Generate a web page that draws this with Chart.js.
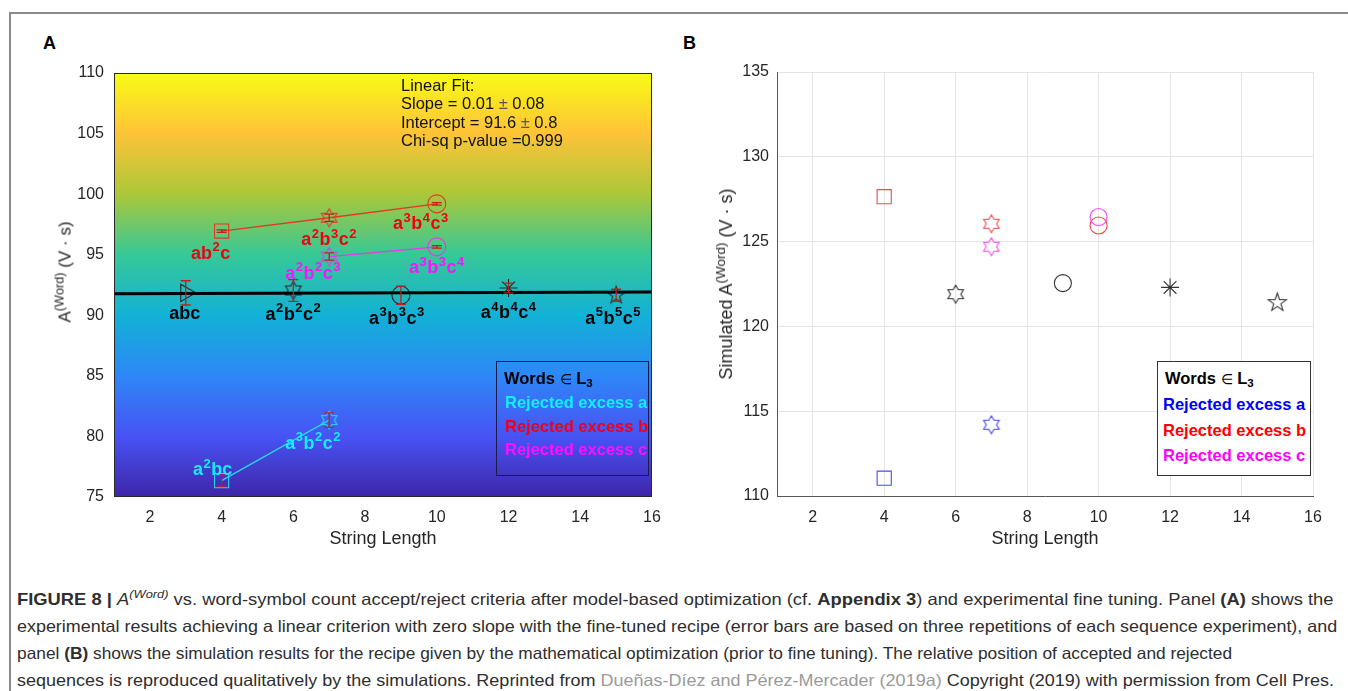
<!DOCTYPE html>
<html><head><meta charset="utf-8">
<script src="https://cdn.jsdelivr.net/npm/chart.js@4.4.1/dist/chart.umd.min.js"></script>
<style>
body{margin:0;background:#fff;width:1348px;height:691px;overflow:hidden;position:relative;font-family:"Liberation Sans",Arial,sans-serif;}
.abs{position:absolute}
#frame{left:9px;top:12px;width:1400px;height:700px;border-left:2px solid #8a8a8a;border-top:2px solid #8a8a8a}
.plab{font-weight:bold;font-size:18px;color:#000;line-height:20px}
.ytitle{white-space:nowrap;color:#262626;transform:translate(-50%,-50%) rotate(-90deg);line-height:1}
.ytitle sup{font-size:0.75em;vertical-align:0.55em;line-height:0}
.lg{position:absolute;box-sizing:border-box}
.lgt{position:absolute;white-space:nowrap;font-weight:bold;font-size:16.5px;line-height:20px}
.lgt sub{font-size:0.7em;vertical-align:-0.3em;line-height:0}
.lgt .el{font-weight:normal;font-size:0.85em}
.ann{position:absolute;white-space:nowrap;font-size:16.5px;line-height:18.3px;color:#111}
.cap{position:absolute;left:17px;white-space:nowrap;font-family:"Liberation Sans",Arial,sans-serif;font-size:16.5px;line-height:20px;color:#2e2e2e;transform-origin:0 50%}
.cap sup{font-size:0.7em;vertical-align:0.6em;line-height:0}
</style></head>
<body>
<div id="frame" class="abs"></div>
<div class="abs plab" style="left:43px;top:33px">A</div>
<div class="abs plab" style="left:683px;top:33px">B</div>

<canvas id="cA" class="abs" width="680" height="560" style="left:0;top:0"></canvas>
<canvas id="cB" class="abs" width="668" height="560" style="left:680px;top:0"></canvas>

<div class="abs ytitle" style="left:65px;top:272px;font-size:17px">A<sup>(Word)</sup> (V · s)</div>
<div class="abs ytitle" style="left:726px;top:284px;font-size:18px">Simulated A<sup>(Word)</sup> (V · s)</div>

<div class="ann" style="left:401px;top:76px">Linear Fit:<br>Slope = 0.01 <span style="color:#555">±</span> 0.08<br>Intercept = 91.6 <span style="color:#555">±</span> 0.8<br>Chi-sq p-value =0.999</div>

<div class="lg" style="left:496px;top:361px;width:153px;height:115px;border:1.5px solid #1c1c4c"></div>
<div class="lgt" style="left:504px;top:368px;color:#000">Words <span class="el">∈</span> L<sub>3</sub></div>
<div class="lgt" style="left:505px;top:392px;color:#10f0ff">Rejected excess a</div>
<div class="lgt" style="left:505px;top:416px;color:#f00018">Rejected excess b</div>
<div class="lgt" style="left:505px;top:439px;color:#ff10ff">Rejected excess c</div>

<div class="lg" style="left:1157px;top:361px;width:154px;height:115px;border:1px solid #333;background:#fff"></div>
<div class="lgt" style="left:1165px;top:368px;color:#000">Words <span class="el">∈</span> L<sub>3</sub></div>
<div class="lgt" style="left:1163px;top:394px;color:#0000ff">Rejected excess a</div>
<div class="lgt" style="left:1163px;top:420px;color:#ff0000">Rejected excess b</div>
<div class="lgt" style="left:1163px;top:445px;color:#ff00ff">Rejected excess c</div>

<div class="cap" data-w="1316" style="top:589px"><b>FIGURE 8 |</b> <i>A</i><sup><i>(Word)</i></sup> vs. word-symbol count accept/reject criteria after model-based optimization (cf. <b>Appendix 3</b>) and experimental fine tuning. Panel <b>(A)</b> shows the</div>
<div class="cap" data-w="1320" style="top:616px">experimental results achieving a linear criterion with zero slope with the fine-tuned recipe (error bars are based on three repetitions of each sequence experiment), and</div>
<div class="cap" data-w="1215" style="top:643px">panel <b>(B)</b> shows the simulation results for the recipe given by the mathematical optimization (prior to fine tuning). The relative position of accepted and rejected</div>
<div class="cap" data-w="1317" style="top:670px">sequences is reproduced qualitatively by the simulations. Reprinted from <span style="color:#9a9a9a">Dueñas-Díez and Pérez-Mercader (2019a)</span> Copyright (2019) with permission from Cell Pres.</div>

<script>
// ================= DATA =================
const xTickValues = [2, 4, 6, 8, 10, 12, 14, 16];
const yTickValuesA = [75, 80, 85, 90, 95, 100, 105, 110];
const yTickValuesB = [110, 115, 120, 125, 130, 135];

// Panel A (experimental)
const acceptedX = [3, 6, 9, 12, 15];
const acceptedA = [91.85, 92.05, 91.65, 92.25, 91.65];
const acceptedErr = [1.0, 0.9, 0.75, 0.4, 0.5];
const acceptedLabels = ['abc', 'a^2b^2c^2', 'a^3b^3c^3', 'a^4b^4c^4', 'a^5b^5c^5'];

const excessBX = [4, 7, 10];
const excessBA = [96.95, 98.05, 99.2];
const excessBErr = [0.1, 0.3, 0.1];
const excessBLabels = ['ab^2c', 'a^2b^3c^2', 'a^3b^4c^3'];

const excessCX = [7, 10];
const excessCA = [94.85, 95.65];
const excessCErr = [0.3, 0.1];
const excessCLabels = ['a^2b^2c^3', 'a^3b^3c^4'];

const excessAX = [4, 7];
const excessAA = [76.35, 81.35];
const excessAErr = [0.45, 0.6];
const excessALabels = ['a^2bc', 'a^3b^2c^2'];

const fitX = [1, 16];
const fitA = [91.77, 91.93];

// Panel B (simulated)
const simAcceptedX = [6, 9, 12, 15];
const simAcceptedA = [121.9, 122.55, 122.3, 121.4];
const simExcessBX = [4, 7, 10];
const simExcessBA = [127.65, 126.05, 125.95];
const simExcessCX = [7, 10];
const simExcessCA = [124.7, 126.45];
const simExcessAX = [4, 7];
const simExcessAA = [111.05, 114.2];

// ================= STYLE HELPERS =================
const FONT = '"Liberation Sans", Arial, sans-serif';
Chart.defaults.font.family = FONT;

function pts(xs, ys) { return xs.map((x, i) => ({x: x, y: ys[i]})); }

function makeStar(n, R, r, color, lw) {
  const s = Math.ceil(2 * R + lw + 4);
  const c = document.createElement('canvas');
  c.width = s; c.height = s;
  const g = c.getContext('2d');
  g.strokeStyle = color; g.lineWidth = lw; g.lineJoin = 'miter';
  g.beginPath();
  for (let k = 0; k < 2 * n; k++) {
    const ang = -Math.PI / 2 + k * Math.PI / n;
    const rad = (k % 2) ? r : R;
    const x = s / 2 + rad * Math.cos(ang), y = s / 2 + rad * Math.sin(ang);
    if (k) g.lineTo(x, y); else g.moveTo(x, y);
  }
  g.closePath(); g.stroke();
  return c;
}
const hex = (col, R) => makeStar(6, R, R / Math.sqrt(3), col, 1.1);
const pent = (col, R) => makeStar(5, R, R * 0.4, col, 1.1);

const parula = [
  [0, 'rgb(62,38,168)'], [1/7, 'rgb(72,82,244)'], [2/7, 'rgb(46,135,247)'],
  [3/7, 'rgb(18,177,214)'], [4/7, 'rgb(55,200,151)'], [5/7, 'rgb(171,199,57)'],
  [6/7, 'rgb(254,195,56)'], [1, 'rgb(249,251,21)']
];

function drawRich(ctx, text, cx, cy, color, base, sup) {
  const segs = []; let i = 0;
  while (i < text.length) {
    if (text[i] === '^') { segs.push({t: text[i + 1], s: true}); i += 2; }
    else { segs.push({t: text[i], s: false}); i++; }
  }
  const fb = 'bold ' + base + 'px ' + FONT, fs = 'bold ' + sup + 'px ' + FONT;
  let w = 0, hasSup = false;
  segs.forEach(s => { ctx.font = s.s ? fs : fb; s.w = ctx.measureText(s.t).width + (s.s ? 1 : 0); w += s.w; if (s.s) hasSup = true; });
  const raise = base * 0.42;
  const top = hasSup ? raise + sup * 0.72 : base * 0.72;
  const baseline = cy + top / 2;
  let x = cx - w / 2;
  ctx.save();
  ctx.fillStyle = color; ctx.textBaseline = 'alphabetic'; ctx.textAlign = 'left';
  segs.forEach(s => {
    ctx.font = s.s ? fs : fb;
    ctx.fillText(s.t, x + (s.s ? 0.5 : 0), s.s ? baseline - raise : baseline);
    x += s.w;
  });
  ctx.restore();
}

const bgPlugin = {
  id: 'parulaBg',
  beforeDatasetsDraw(chart) {
    const {ctx, chartArea: a} = chart;
    const g = ctx.createLinearGradient(0, a.bottom, 0, a.top);
    parula.forEach(s => g.addColorStop(s[0], s[1]));
    ctx.save(); ctx.fillStyle = g; ctx.fillRect(a.left, a.top, a.right - a.left, a.bottom - a.top); ctx.restore();
  },
  afterDraw(chart) {
    const {ctx, chartArea: a} = chart;
    ctx.save(); ctx.strokeStyle = '#2a2a2a'; ctx.lineWidth = 1;
    ctx.strokeRect(a.left + 0.5, a.top + 0.5, a.right - a.left - 1, a.bottom - a.top - 1); ctx.restore();
  }
};

const errPlugin = {
  id: 'errBars',
  afterDatasetsDraw(chart) {
    const {ctx} = chart; const ys = chart.scales.y;
    chart.data.datasets.forEach((ds, di) => {
      if (!ds.errors) return;
      const meta = chart.getDatasetMeta(di);
      meta.data.forEach((el, i) => {
        const v = ds.data[i].y, e = ds.errors[i];
        const y1 = ys.getPixelForValue(v + e), y2 = ys.getPixelForValue(v - e);
        ctx.save(); ctx.strokeStyle = '#c41c1c'; ctx.lineWidth = 1.3;
        ctx.beginPath();
        ctx.moveTo(el.x, y1); ctx.lineTo(el.x, y2);
        ctx.moveTo(el.x - 5, y1); ctx.lineTo(el.x + 5, y1);
        ctx.moveTo(el.x - 5, y2); ctx.lineTo(el.x + 5, y2);
        ctx.stroke(); ctx.restore();
      });
    });
  }
};

const labelOffsets = {
  accepted: [[-1, 20], [0, 21], [-4, 20], [0, 22], [-3, 20]],
  b: [[-11, 19], [0, 19], [-16, 17]],
  c: [[-16, 14], [0, 18]],
  a: [[-9, -14], [-16, 20]]
};
const labelPlugin = {
  id: 'ptLabels',
  afterDatasetsDraw(chart) {
    const {ctx} = chart;
    chart.data.datasets.forEach((ds, di) => {
      if (!ds.ptLabels) return;
      const meta = chart.getDatasetMeta(di);
      meta.data.forEach((el, i) => {
        const o = labelOffsets[ds.labKey][i];
        drawRich(ctx, ds.ptLabels[i], el.x + o[0], el.y + o[1], ds.labColor, 18, 13);
      });
    });
  }
};

function xScale(ticksFont, h, pad) {
  return {
    type: 'linear', min: 1, max: 16,
    afterBuildTicks: s => { s.ticks = xTickValues.map(v => ({value: v})); },
    afterFit: s => { s.height = h; },
    grid: {display: false, drawTicks: false}, border: {display: false},
    ticks: {color: '#262626', font: {size: ticksFont}, padding: pad, maxRotation: 0},
    title: {display: true, text: 'String Length', color: '#262626', font: {size: 18}, padding: {top: 0, bottom: 10}}
  };
}

// ================= PANEL A =================
const blk = '#262626', redA = '#e03a24', magA = '#e838e8', cyA = '#22d8ee';
new Chart(document.getElementById('cA'), {
  type: 'scatter',
  data: {
    datasets: [
      {label: 'fit', data: pts(fitX, fitA), showLine: true, borderColor: '#000', borderWidth: 3, pointRadius: 0, order: 0},
      {label: 'Words in L3', data: pts(acceptedX, acceptedA), errors: acceptedErr, ptLabels: acceptedLabels, labKey: 'accepted', labColor: '#000',
       pointStyle: ['triangle', hex(blk, 9), 'circle', 'star', pent(blk, 9)], pointRotation: [90, 0, 0, 0, 0],
       pointRadius: [10, 9, 9, 9, 9], pointBorderColor: blk, pointBackgroundColor: 'rgba(0,0,0,0)', pointBorderWidth: 1.1, order: 1},
      {label: 'Rejected excess b', data: pts(excessBX, excessBA), errors: excessBErr, ptLabels: excessBLabels, labKey: 'b', labColor: '#f00010',
       showLine: true, borderColor: redA, borderWidth: 1.3,
       pointStyle: ['rect', hex(redA, 9), 'circle'], pointRadius: [10, 9, 9], pointBorderColor: redA, pointBackgroundColor: 'rgba(0,0,0,0)', pointBorderWidth: 1.1, order: 2},
      {label: 'Rejected excess c', data: pts(excessCX, excessCA), errors: excessCErr, ptLabels: excessCLabels, labKey: 'c', labColor: '#ff10ff',
       showLine: true, borderColor: magA, borderWidth: 1.3,
       pointStyle: [hex(magA, 9), 'circle'], pointRadius: [9, 9], pointBorderColor: magA, pointBackgroundColor: 'rgba(0,0,0,0)', pointBorderWidth: 1.1, order: 3},
      {label: 'Rejected excess a', data: pts(excessAX, excessAA), errors: excessAErr, ptLabels: excessALabels, labKey: 'a', labColor: '#10f0ff',
       showLine: true, borderColor: cyA, borderWidth: 1.3,
       pointStyle: ['rect', hex(cyA, 9)], pointRadius: [10, 9], pointBorderColor: cyA, pointBackgroundColor: 'rgba(0,0,0,0)', pointBorderWidth: 1.1, order: 4}
    ]
  },
  options: {
    responsive: false, animation: false, devicePixelRatio: 1,
    layout: {padding: {left: 0, right: 28, top: 73, bottom: 0}},
    plugins: {legend: {display: false}, tooltip: {enabled: false}},
    scales: {
      x: xScale(16, 63, 11),
      y: {
        type: 'linear', min: 75, max: 110,
        afterBuildTicks: s => { s.ticks = yTickValuesA.map(v => ({value: v})); },
        afterFit: s => { s.width = 114; },
        grid: {display: false, drawTicks: false}, border: {display: false},
        ticks: {color: '#262626', font: {size: 16}, padding: 10}
      }
    }
  },
  plugins: [bgPlugin, errPlugin, labelPlugin]
});

// ================= PANEL B =================
const blkB = '#333333', redB = '#f24a4a', magB = '#f24af2', bluB = '#4a4af2';
new Chart(document.getElementById('cB'), {
  type: 'scatter',
  data: {
    datasets: [
      {label: 'Words in L3', data: pts(simAcceptedX, simAcceptedA),
       pointStyle: [hex(blkB, 9), 'circle', 'star', pent(blkB, 9.5)], pointRadius: [9, 8.5, 9, 9],
       pointBorderColor: blkB, pointBackgroundColor: 'rgba(0,0,0,0)', pointBorderWidth: 1.1},
      {label: 'Rejected excess b', data: pts(simExcessBX, simExcessBA),
       pointStyle: ['rect', hex(redB, 9), 'circle'], pointRadius: [10, 9, 8.5],
       pointBorderColor: redB, pointBackgroundColor: 'rgba(0,0,0,0)', pointBorderWidth: 1.1},
      {label: 'Rejected excess c', data: pts(simExcessCX, simExcessCA),
       pointStyle: [hex(magB, 9), 'circle'], pointRadius: [9, 8.5],
       pointBorderColor: magB, pointBackgroundColor: 'rgba(0,0,0,0)', pointBorderWidth: 1.1},
      {label: 'Rejected excess a', data: pts(simExcessAX, simExcessAA),
       pointStyle: ['rect', hex(bluB, 9)], pointRadius: [10, 9],
       pointBorderColor: bluB, pointBackgroundColor: 'rgba(0,0,0,0)', pointBorderWidth: 1.1}
    ]
  },
  options: {
    responsive: false, animation: false, devicePixelRatio: 1,
    layout: {padding: {left: 0, right: 35, top: 72, bottom: 0}},
    plugins: {legend: {display: false}, tooltip: {enabled: false}},
    scales: {
      x: Object.assign(xScale(16, 64, 12), {
        grid: {display: true, color: '#e4e4e4', lineWidth: 1, drawTicks: false},
        border: {display: true, color: '#555', width: 1}
      }),
      y: {
        type: 'linear', min: 110, max: 135,
        afterBuildTicks: s => { s.ticks = yTickValuesB.map(v => ({value: v})); },
        afterFit: s => { s.width = 97; },
        grid: {display: true, color: '#e4e4e4', lineWidth: 1, drawTicks: false},
        border: {display: true, color: '#555', width: 1},
        ticks: {color: '#262626', font: {size: 16}, padding: 8}
      }
    }
  }
});

// ================= caption fitting =================
function fitCaps() {
  document.querySelectorAll('.cap').forEach(el => {
    el.style.transform = 'none';
    const w = el.scrollWidth;
    const t = +el.dataset.w;
    el.style.transform = 'scaleX(' + (t / w) + ')';
  });
}
fitCaps();
if (document.fonts && document.fonts.ready) document.fonts.ready.then(fitCaps);
</script>
</body></html>
